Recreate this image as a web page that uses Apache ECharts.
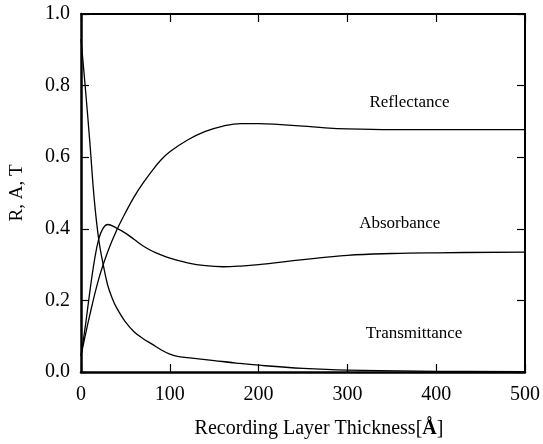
<!DOCTYPE html>
<html>
<head>
<meta charset="utf-8">
<script src="https://cdn.jsdelivr.net/npm/echarts@6/dist/echarts.min.js"></script>
<style>html,body{margin:0;padding:0;background:#fff}#c{width:543px;height:444px}</style>
</head>
<body>
<div id="c"></div>
<script>
var xTicks = [0, 100, 200, 300, 400, 500];
var yTicks = [0.0, 0.2, 0.4, 0.6, 0.8, 1.0];

var transX = [0, 5, 10, 15, 20, 25, 30, 35, 40, 50, 60, 70, 80, 90, 100, 110, 125, 150, 175, 200, 250, 300, 400, 500];
var transY = [0.93, 0.79, 0.64, 0.48, 0.37, 0.30, 0.243, 0.207, 0.18, 0.14, 0.112, 0.093, 0.078, 0.062, 0.05, 0.043, 0.039, 0.032, 0.025, 0.019, 0.010, 0.005, 0.002, 0.001];

var absX = [0, 5, 10, 15, 20, 25, 30, 40, 50, 60, 70, 80, 90, 100, 120, 140, 160, 180, 200, 250, 300, 350, 400, 500];
var absY = [0.045, 0.13, 0.225, 0.31, 0.372, 0.402, 0.412, 0.402, 0.388, 0.37, 0.352, 0.338, 0.327, 0.318, 0.305, 0.297, 0.294, 0.296, 0.300, 0.314, 0.326, 0.331, 0.333, 0.335];

var refX = [0, 10, 20, 30, 40, 50, 60, 70, 80, 90, 100, 120, 140, 160, 180, 200, 225, 250, 275, 300, 350, 400, 450, 500];
var refY = [0.045, 0.16, 0.26, 0.335, 0.395, 0.445, 0.49, 0.528, 0.562, 0.592, 0.615, 0.648, 0.672, 0.687, 0.694, 0.694, 0.691, 0.687, 0.682, 0.679, 0.677, 0.677, 0.677, 0.677];

var labelNames = ['Reflectance', 'Absorbance', 'Transmittance'];
var labelX = [370, 359, 375];
var labelY = [0.753, 0.414, 0.108];

function pairs(xs, ys) { return xs.map(function (x, i) { return [x, ys[i]]; }); }

var FONT = '"Liberation Serif", "DejaVu Serif", serif';
var chart = echarts.init(document.getElementById('c'), null, {renderer: 'canvas'});

function lineSeries(name, xs, ys) {
  return {
    name: name, type: 'line', data: pairs(xs, ys), smooth: 0.4, showSymbol: false,
    lineStyle: {color: '#000', width: 1.3}, xAxisIndex: 0, yAxisIndex: 0, z: 3
  };
}

chart.setOption({
  animation: false,
  backgroundColor: '#fff',
  grid: {left: 81, right: 13, top: 14, bottom: 70},
  xAxis: [{
    type: 'value', min: 0, max: 500, interval: 100, position: 'bottom',
    name: 'Recording Layer Thickness[{b|Å}]', nameLocation: 'middle', nameGap: 47,
    nameTextStyle: {fontFamily: FONT, fontSize: 20, color: '#000', padding: [0, 0, 0, 32],
      rich: {b: {fontFamily: FONT, fontSize: 20, fontWeight: 'bold', color: '#000'}}},
    axisLine: {onZero: false, lineStyle: {color: '#000', width: 2.5}},
    axisTick: {inside: true, length: 8, lineStyle: {color: '#000', width: 1.2}},
    axisLabel: {fontFamily: FONT, fontSize: 20, color: '#000', margin: 13},
    splitLine: {show: false}
  }, {
    type: 'value', min: 0, max: 500, interval: 100, position: 'top',
    axisLine: {show: true, onZero: false, lineStyle: {color: '#000', width: 2}},
    axisTick: {inside: true, length: 8, lineStyle: {color: '#000', width: 1.2}},
    axisLabel: {show: false}, splitLine: {show: false}
  }],
  yAxis: [{
    type: 'value', min: 0, max: 1, interval: 0.2, position: 'left',
    name: 'R, A, T', nameLocation: 'middle', nameGap: 54,
    nameTextStyle: {fontFamily: FONT, fontSize: 19, color: '#000'},
    axisLine: {show: true, onZero: false, lineStyle: {color: '#000', width: 2.5}},
    axisTick: {inside: true, length: 8, lineStyle: {color: '#000', width: 1.2}},
    axisLabel: {fontFamily: FONT, fontSize: 20, color: '#000', margin: 11,
      formatter: function (v) { return v.toFixed(1); }},
    splitLine: {show: false}
  }, {
    type: 'value', min: 0, max: 1, interval: 0.2, position: 'right',
    axisLine: {show: true, onZero: false, lineStyle: {color: '#000', width: 2}},
    axisTick: {inside: true, length: 8, lineStyle: {color: '#000', width: 1.2}},
    axisLabel: {show: false}, splitLine: {show: false}
  }],
  series: [
    lineSeries('Transmittance', transX, transY),
    lineSeries('Absorbance', absX, absY),
    lineSeries('Reflectance', refX, refY)
  ]
});

var texts = labelNames.map(function (n, i) {
  var p = chart.convertToPixel({xAxisIndex: 0, yAxisIndex: 0}, [labelX[i], labelY[i]]);
  return {type: 'text', x: p[0], y: p[1], z: 10,
    style: {text: n, fill: '#000', font: '17px ' + FONT, textAlign: 'center', textVerticalAlign: 'middle'}};
});
chart.setOption({graphic: texts});
</script>
</body>
</html>
